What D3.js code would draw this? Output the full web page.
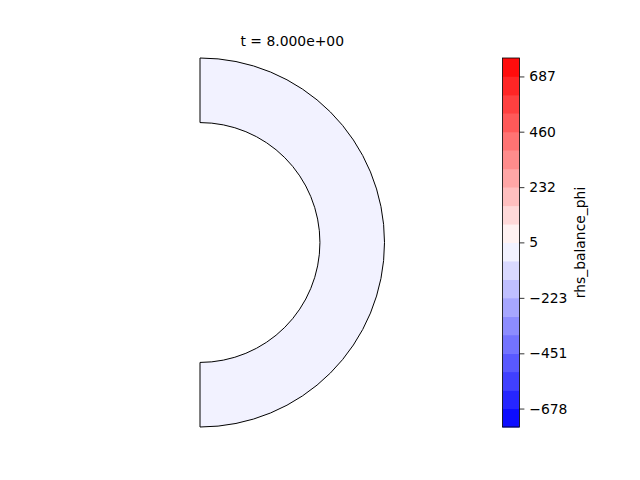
<!DOCTYPE html>
<html><head><meta charset="utf-8">
<script src="https://cdn.jsdelivr.net/npm/d3@7"></script>
<style>body{margin:0;background:#fff}svg{display:block}text{font-family:"DejaVu Sans",sans-serif}</style>
</head><body>
<svg id="c" width="640" height="480"></svg>
<script>
// data
const titleText = "t = 8.000e+00";
const colorbarLabel = "rhs_balance_phi";
const rInner = 1.3, rOuter = 2.0;          // radial extent of domain
const thetaStart = -90, thetaEnd = 90;     // degrees
const fieldValue = 0;                      // uniform field value
const levels = [-753.83,-678.00,-602.17,-526.33,-450.50,-374.67,-298.83,-223.00,-147.17,-71.33,4.50,80.33,156.17,232.00,307.83,383.67,459.50,535.33,611.17,687.00,762.83];
const tickValues = [687,460,232,5,-223,-451,-678];
const tickLabels = ["687","460","232","5","\u2212223","\u2212451","\u2212678"];

const svg = d3.select("#c");
const x = d3.scaleLinear().domain([0, 2]).range([200, 384.5]);
const y = d3.scaleLinear().domain([-2, 2]).range([427, 58]);

const nb = levels.length - 1;
const bwr = t => t < 0.5 ? d3.rgb(255*2*t, 255*2*t, 255) : d3.rgb(255, 255*2*(1-t), 255*2*(1-t));
const bandColor = i => bwr((i + 0.5) / nb);
const bandOf = v => { for (let i = 0; i < nb; i++) if (v >= levels[i] && v < levels[i+1]) return i; return v < levels[0] ? 0 : nb-1; };

// annulus
const arc = d3.arc()
  .innerRadius(x(rInner) - x(0))
  .outerRadius(x(rOuter) - x(0))
  .startAngle((90 + thetaStart) * Math.PI/180)
  .endAngle((90 + thetaEnd) * Math.PI/180);
svg.append("path")
  .attr("transform", `translate(${x(0)},${y(0)})`)
  .attr("d", arc())
  .attr("fill", bandColor(bandOf(fieldValue)))
  .attr("stroke", "#000").attr("stroke-width", 1);

svg.append("text").attr("x", (x(0)+x(rOuter))/2).attr("y", 46)
  .attr("text-anchor", "middle").attr("font-size", "13.9px").text(titleText);

// colorbar
const cx0 = 502.5, cw = 17;
const cy = d3.scaleLinear().domain([levels[0], levels[nb]]).range([427, 58]);
const cb = svg.append("g");
cb.selectAll("rect").data(d3.range(nb)).join("rect")
  .attr("x", cx0).attr("width", cw)
  .attr("y", i => cy(levels[i+1]))
  .attr("height", i => cy(levels[i]) - cy(levels[i+1]) + 0.5)
  .attr("fill", i => bandColor(i));
cb.append("rect").attr("x", cx0).attr("y", cy(levels[nb])).attr("width", cw)
  .attr("height", cy(levels[0]) - cy(levels[nb]))
  .attr("fill", "none").attr("stroke", "#000").attr("stroke-width", 0.8);

const axis = d3.axisRight(cy).tickValues(tickValues).tickSize(4.9).tickPadding(4.9)
  .tickFormat((d, i) => tickLabels[i]);
const ag = svg.append("g").attr("transform", `translate(${cx0+cw},0)`).call(axis);
ag.select(".domain").remove();
ag.selectAll("line").attr("stroke-width", 0.8);
ag.selectAll("text").attr("font-size", "13.9px").attr("font-family", "DejaVu Sans");

svg.append("text").attr("transform", `translate(585,242.5) rotate(-90)`)
  .attr("text-anchor", "middle").attr("font-size", "13.9px").text(colorbarLabel);
</script>
</body></html>
